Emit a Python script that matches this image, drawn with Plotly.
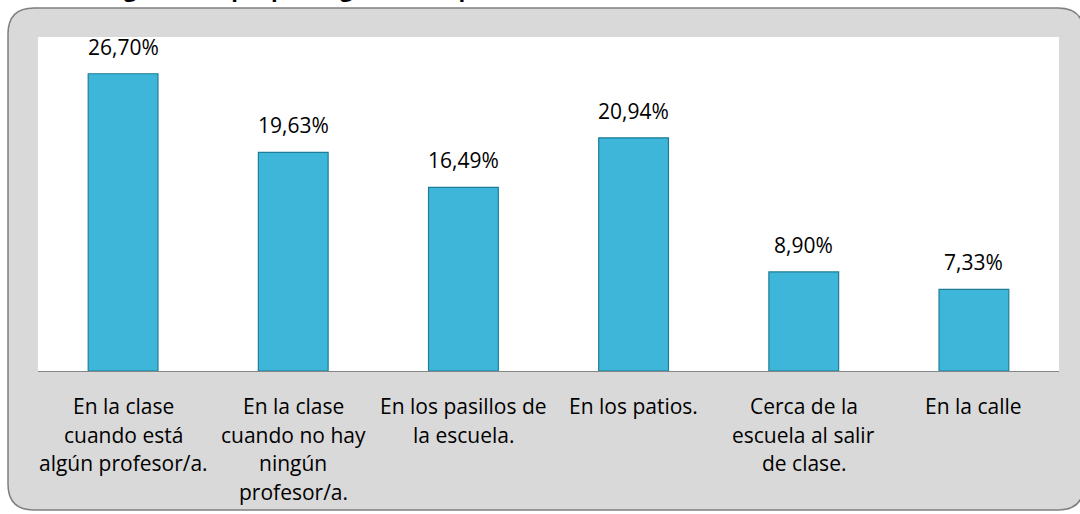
import plotly.graph_objects as go

categories = [
	"En la clase<br>cuando está<br>algún profesor/a.",
	"En la clase<br>cuando no hay<br>ningún<br>profesor/a.",
	"En los pasillos de<br>la escuela.",
	"En los patios.",
	"Cerca de la<br>escuela al salir<br>de clase.",
	"En la calle",
]
values = [26.70, 19.63, 16.49, 20.94, 8.90, 7.33]
title_text = "Lugar en el que por lo general se producen"

FONT = "Open Sans"
W, H = 1080, 514
L, R, T, B = 38, 21, 37, 143
pw, ph = W - L - R, H - T - B

def px_x(p):
	return (p - L) / pw

def px_y(p):
	return (H - B - p) / ph

fig = go.Figure()
fig.add_trace(go.Bar(
	x=list(range(len(values))),
	y=values,
	width=0.41,
	marker=dict(color="#3db6da", line=dict(color="#1f7d97", width=1.2)),
	hoverinfo="skip",
))

annotations = []
for i, v in enumerate(values):
	annotations.append(dict(
		x=i, y=v, xref="x", yref="y",
		text=f"{v:.2f}%".replace(".", ","),
		showarrow=False, yanchor="bottom", yshift=11,
		font=dict(family=FONT, size=21, color="#000000"),
	))
	for k, line in enumerate(categories[i].split("<br>")):
		annotations.append(dict(
			x=i, y=0, xref="x", yref="y",
			text=line, showarrow=False, yanchor="top",
			yshift=-19 - 28.5 * k,
			font=dict(family=FONT, size=21, color="#000000"),
		))

# title, mostly cut off at the top edge
annotations.append(dict(
	x=px_x(95), y=px_y(5), xref="paper", yref="paper",
	text="<b>" + title_text + "</b>", showarrow=False,
	xanchor="left", yanchor="bottom",
	font=dict(family=FONT, size=22, color="#000000"),
))

# rounded gray frame
x0, x1, y0, y1 = px_x(8), px_x(1084), px_y(510), px_y(8)
rx, ry = 26 / pw, 26 / ph
frame = (
	f"M {x0+rx},{y1} L {x1-rx},{y1} Q {x1},{y1} {x1},{y1-ry} "
	f"L {x1},{y0+ry} Q {x1},{y0} {x1-rx},{y0} "
	f"L {x0+rx},{y0} Q {x0},{y0} {x0},{y0+ry} "
	f"L {x0},{y1-ry} Q {x0},{y1} {x0+rx},{y1} Z"
)
shapes = [
	dict(type="path", path=frame, xref="paper", yref="paper", layer="below",
		fillcolor="#d9d9d9", line=dict(color="#7f7f7f", width=1.5)),
	dict(type="rect", x0=0, x1=1, y0=0, y1=1, xref="paper", yref="paper",
		layer="below", fillcolor="#ffffff", line=dict(width=0)),
]

fig.update_layout(
	width=W,
	height=H,
	margin=dict(l=L, r=R, t=T, b=B, pad=0),
	paper_bgcolor="#ffffff",
	plot_bgcolor="rgba(0,0,0,0)",
	showlegend=False,
	annotations=annotations,
	shapes=shapes,
	bargap=0.59,
)
fig.update_xaxes(
	range=[-0.5, len(values) - 0.5],
	showticklabels=False,
	showgrid=False,
	zeroline=False,
	showline=True,
	linecolor="#868686",
	linewidth=1.2,
	ticks="",
)
fig.update_yaxes(
	range=[0, 30],
	visible=False,
	showgrid=False,
	zeroline=False,
)

fig.write_html(
	"out.html",
	config={"displayModeBar": False},
	post_script="document.body.style.margin='0';",
)
